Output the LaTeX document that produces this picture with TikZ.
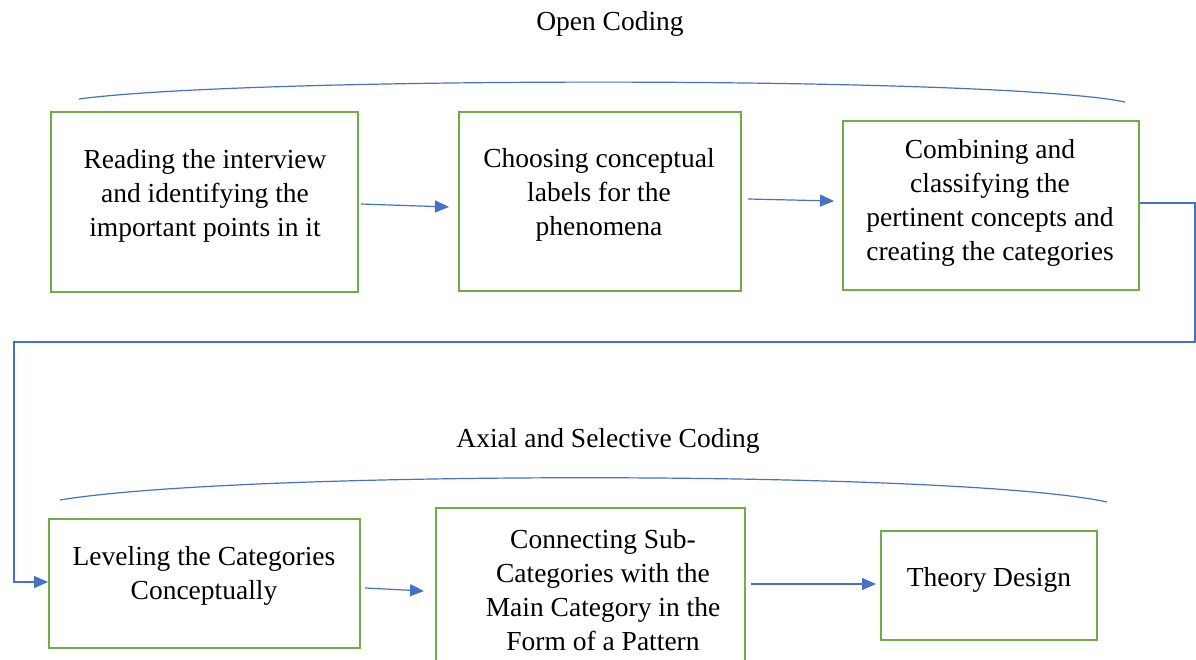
\documentclass[tikz,border=0pt]{standalone}
\usepackage{fontspec}
\setmainfont{Liberation Serif}
\usetikzlibrary{arrows.meta}
\definecolor{boxgreen}{HTML}{70AD47}
\definecolor{lineblue}{HTML}{4472C4}
\tikzset{
  stepbox/.style={draw=boxgreen, line width=2pt, fill=none, inner sep=0pt},
  txt/.style={align=center, inner sep=0pt, font=\fontsize{27.5}{34}\selectfont},
  ttl/.style={inner sep=0pt, font=\fontsize{27.5}{32}\selectfont},
  conn/.style={draw=lineblue, line width=1.2pt},
  arr/.style={conn, -{Triangle[length=14pt,width=12pt]}},
  brace/.style={draw=lineblue, line width=1.2pt}
}
\begin{document}
\begin{tikzpicture}[x=1pt,y=-1pt]
\useasboundingbox (0,0) rectangle (1196,660);
\clip (0,0) rectangle (1196,660);
\fill[white] (0,0) rectangle (1196,660);
% titles
\node[ttl] (t1) at (610,24) {Open Coding};
\node[ttl] (t2) at (608,441) {Axial and Selective Coding};
% braces
\draw[brace] (79,99) .. controls (250,76) and (1000,76) .. (1125,102);
\draw[brace] (60,500) .. controls (240,470) and (960,470) .. (1107,502);
% boxes
\node[stepbox, minimum width=307, minimum height=180] (b1) at (204.5,202) {};
\node[stepbox, minimum width=282, minimum height=179] (b2) at (600,201.5) {};
\node[stepbox, minimum width=296, minimum height=169] (b3) at (991,205.5) {};
\node[stepbox, minimum width=311, minimum height=129] (b4) at (204.5,583.5) {};
\node[stepbox, minimum width=309, minimum height=170] (b5) at (590.5,593) {};
\node[stepbox, minimum width=216, minimum height=109] (b6) at (989,585.5) {};
% texts
\node[txt] (x1) at (205,196) {Reading the interview\\and identifying the\\important points in it};
\node[txt] (x2) at (599,195) {Choosing conceptual\\labels for the\\phenomena};
\node[txt] (x3) at (990,203) {Combining and\\classifying the\\pertinent concepts and\\creating the categories};
\node[txt] (x4) at (204,576) {Leveling the Categories\\Conceptually};
\node[txt] (x5) at (603,590) {Connecting Sub-\\Categories with the\\Main Category in the\\Form of a Pattern};
\node[txt] (x6) at (989,580) {Theory Design};
% arrows
\coordinate (a1s) at (361,204);
\coordinate (a1e) at (449,207);
\draw[arr] (a1s) -- (a1e);
\coordinate (a2s) at (748,199);
\coordinate (a2e) at (834,201);
\draw[arr] (a2s) -- (a2e);
\coordinate (a3s) at (365,588);
\coordinate (a3e) at (424,591);
\draw[arr] (a3s) -- (a3e);
\coordinate (a4s) at (751,584);
\coordinate (a4e) at (876,584);
\draw[arr] (a4s) -- (a4e);
% long connector
\coordinate (c1) at (1195,203);
\coordinate (c2) at (1195,342);
\coordinate (c3) at (14,342);
\coordinate (c4) at (14,582);
\draw[arr] (b3.east |- c1) -- (c1) -- (c2) -- (c3) -- (c4) -- (b4.west |- c4);
\end{tikzpicture}
\end{document}
